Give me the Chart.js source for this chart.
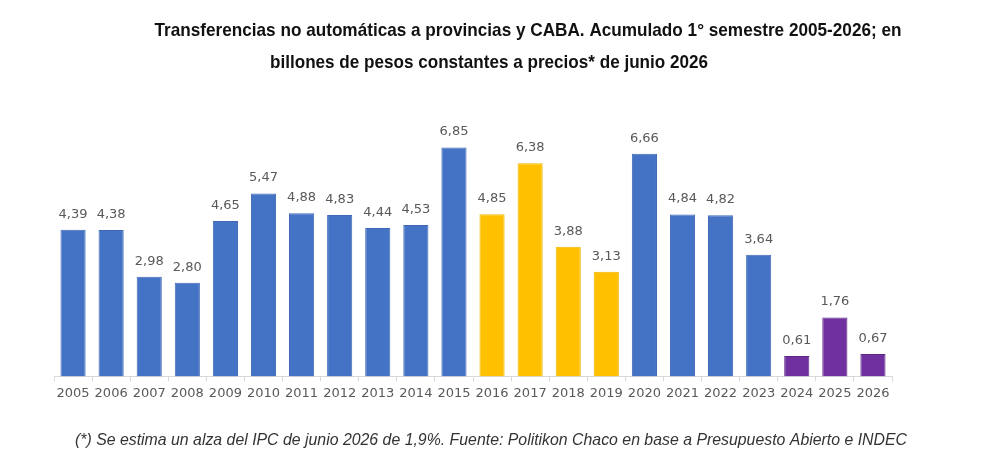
<!DOCTYPE html>
<html>
<head>
<meta charset="utf-8">
<script src="https://cdn.jsdelivr.net/npm/chart.js@4.4.0/dist/chart.umd.min.js"></script>
<style>
  html, body { margin: 0; padding: 0; background: #fff; }
  #wrap { width: 1000px; height: 468px; }
</style>
</head>
<body>
<div id="wrap"><canvas id="myChart" width="1000" height="468"></canvas></div>
<script>
// datos
var anios = ['2005', '2006', '2007', '2008', '2009', '2010', '2011', '2012', '2013', '2014', '2015',
             '2016', '2017', '2018', '2019', '2020', '2021', '2022', '2023', '2024', '2025', '2026'];
var valores = [4.39, 4.38, 2.98, 2.80, 4.65, 5.47, 4.88, 4.83, 4.44, 4.53, 6.85,
               4.85, 6.38, 3.88, 3.13, 6.66, 4.84, 4.82, 3.64, 0.61, 1.76, 0.67];
var grupos = ['a', 'a', 'a', 'a', 'a', 'a', 'a', 'a', 'a', 'a', 'a',
              'b', 'b', 'b', 'b', 'a', 'a', 'a', 'a', 'c', 'c', 'c'];

var coresGrupo = { a: '#4472C4', b: '#FFC000', c: '#7030A0' };
var coresBordaGrupo = { a: '#3f69b5', b: '#f2b600', c: '#5c2785' };

var titulo1 = 'Transferencias no automáticas a provincias y CABA. Acumulado 1° semestre 2005-2026; en';
var titulo2 = 'billones de pesos constantes a precios* de junio 2026';
var rodape = '(*) Se estima un alza del IPC de junio 2026 de 1,9%. Fuente: Politikon Chaco en base a Presupuesto Abierto e INDEC';

// texto "condensado": comprime na horizontal ate a largura do original
function textoEstreito(ctx, texto, cx, cy, largura) {
    var fator = largura / ctx.measureText(texto).width;
    ctx.save();
    ctx.translate(cx, cy);
    ctx.scale(fator, 1);
    ctx.fillText(texto, 0, 0);
    ctx.restore();
}

// textos fora da area do grafico
var textosPlugin = {
    id: 'textos',
    afterDraw: function (chart) {
        var ctx = chart.ctx;
        ctx.save();
        ctx.fillStyle = '#111111';
        ctx.textAlign = 'center';
        ctx.textBaseline = 'middle';
        ctx.font = 'bold 19px "Liberation Sans", Arial, sans-serif';
        textoEstreito(ctx, titulo1, 528, 31, 747);
        textoEstreito(ctx, titulo2, 489, 63, 438);
        ctx.fillStyle = '#333333';
        ctx.font = 'italic 17px "Liberation Sans", Arial, sans-serif';
        textoEstreito(ctx, rodape, 491, 440, 832);
        ctx.restore();
    }
};

// rotulos dos valores em cima das barras
var rotulosPlugin = {
    id: 'rotulos',
    afterDatasetsDraw: function (chart) {
        var ctx = chart.ctx;
        var meta = chart.getDatasetMeta(0);
        ctx.save();
        ctx.fillStyle = '#595959';
        ctx.textAlign = 'center';
        ctx.textBaseline = 'bottom';
        ctx.font = '13px "DejaVu Sans", Verdana, sans-serif';
        meta.data.forEach(function (bar, i) {
            ctx.fillText(valores[i].toFixed(2).replace('.', ','), bar.x, bar.y - 9);
        });
        ctx.restore();
    }
};

var ctx = document.getElementById('myChart').getContext('2d');
var myChart = new Chart(ctx, {
    type: 'bar',
    data: {
        labels: anios,
        datasets: [{
            data: valores,
            backgroundColor: grupos.map(function (g) { return coresGrupo[g]; }),
            borderColor: grupos.map(function (g) { return coresBordaGrupo[g]; }),
            borderWidth: 1,
            barPercentage: 0.66,
            categoryPercentage: 1
        }]
    },
    options: {
        responsive: false,
        animation: false,
        layout: {
            padding: { left: 54, right: 108, top: 109, bottom: 63 }
        },
        plugins: {
            legend: { display: false },
            tooltip: { enabled: false }
        },
        scales: {
            x: {
                offset: true,
                grid: {
                    display: true,
                    offset: true,
                    drawOnChartArea: false,
                    drawTicks: true,
                    tickLength: 5,
                    color: '#d9d9d9'
                },
                border: { display: true, color: '#d9d9d9', width: 1 },
                ticks: {
                    color: '#595959',
                    padding: 4,
                    font: { family: '"DejaVu Sans", Verdana, sans-serif', size: 13 },
                    maxRotation: 0,
                    autoSkip: false
                }
            },
            y: {
                display: false,
                min: 0,
                max: 8
            }
        }
    },
    plugins: [textosPlugin, rotulosPlugin]
});
</script>
</body>
</html>
